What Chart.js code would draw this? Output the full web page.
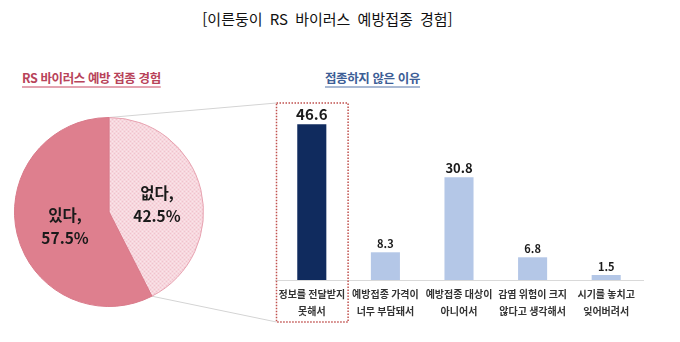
<!DOCTYPE html>
<html lang="ko">
<head>
<meta charset="utf-8">
<script src="https://cdn.jsdelivr.net/npm/chart.js@4.4.1/dist/chart.umd.min.js"></script>
<style>
  html, body { margin: 0; padding: 0; background: #fff; }
  body { width: 680px; height: 342px; position: relative; overflow: hidden; font-family: "Noto Sans CJK KR", sans-serif; }
  .title { position: absolute; top: 8px; left: 0; width: 655px; text-align: center; font-size: 15px; word-spacing: 3px; color: #111; }
  .sub { position: absolute; top: 68px; font-size: 12.5px; font-weight: bold; letter-spacing: -0.4px; text-decoration: underline; text-underline-offset: 3px; text-decoration-thickness: 2px; }
  .sub.left { left: 22px; color: #b8435a; text-decoration-color: #e3a3b0; }
  .sub.right { left: 325px; color: #3d5e96; text-decoration-color: #a9b9d3; }
  #barCanvas { position: absolute; left: 0; top: 60px; }
  #pieCanvas { position: absolute; left: 14px; top: 117px; }
</style>
</head>
<body>
<div class="title">[이른둥이 RS 바이러스 예방접종 경험]</div>
<div class="sub left">RS 바이러스 예방 접종 경험</div>
<div class="sub right">접종하지 않은 이유</div>
<canvas id="barCanvas" width="680" height="282"></canvas>
<canvas id="pieCanvas" width="190" height="190"></canvas>
<script>
const FONT = '"Noto Sans CJK KR", sans-serif';

// 접종 경험
const pieLabels = ['없다', '있다'];
const pieValues = [42.5, 57.5];

// 접종하지 않은 이유 (%)
const reasonLabels = [
  ['정보를 전달받지', '못해서'],
  ['예방접종 가격이', '너무 부담돼서'],
  ['예방접종 대상이', '아니어서'],
  ['감염 위험이 크지', '않다고 생각해서'],
  ['시기를 놓치고', '잊어버려서']
];
const reasonValues = [46.6, 8.3, 30.8, 6.8, 1.5];

// fine pink cross-hatch for the "없다" slice
function hatchPattern() {
  const c = document.createElement('canvas');
  c.width = c.height = 4;
  const g = c.getContext('2d');
  g.fillStyle = '#f7d7de';
  g.fillRect(0, 0, 4, 4);
  g.fillStyle = '#f0c3cd';
  g.fillRect(0, 0, 1, 1);
  g.fillRect(2, 2, 1, 1);
  g.fillStyle = '#fae6ea';
  g.fillRect(2, 0, 1, 1);
  g.fillRect(0, 2, 1, 1);
  return g.createPattern(c, 'repeat');
}

const pieLabelPlugin = {
  id: 'pieLabels',
  afterDatasetsDraw(chart) {
    const ctx = chart.ctx;
    const meta = chart.getDatasetMeta(0);
    ctx.save();
    ctx.font = 'bold 15.5px ' + FONT;
    ctx.fillStyle = '#1a1a1a';
    ctx.textAlign = 'center';
    ctx.textBaseline = 'middle';
    meta.data.forEach((arc, i) => {
      const p = arc.tooltipPosition();
      const y = p.y + 3;
      ctx.fillText(pieLabels[i] + ',', p.x + 2, y - 11);
      ctx.fillText(pieValues[i].toFixed(1) + '%', p.x + 2, y + 12);
    });
    ctx.restore();
  }
};

const pieCanvas = document.getElementById('pieCanvas');
const pieChart = new Chart(pieCanvas, {
  type: 'pie',
  data: {
    labels: pieLabels,
    datasets: [{
      data: pieValues,
      backgroundColor: [hatchPattern(), '#de7f8e'],
      borderColor: ['#e7a2b0', '#d97a8a'],
      borderWidth: 1
    }]
  },
  options: {
    responsive: false,
    animation: false,
    layout: { padding: 0 },
    plugins: { legend: { display: false }, tooltip: { enabled: false } }
  },
  plugins: [pieLabelPlugin]
});

const labelSizes = [15, 11, 13, 11, 11];

const barExtrasPlugin = {
  id: 'barExtras',
  afterDraw(chart) {
    const { ctx, chartArea, scales: { x } } = chart;
    const meta = chart.getDatasetMeta(0);
    ctx.save();

    // value labels above bars
    ctx.fillStyle = '#1a1a1a';
    ctx.textAlign = 'center';
    ctx.textBaseline = 'alphabetic';
    meta.data.forEach((bar, i) => {
      ctx.font = 'bold ' + labelSizes[i] + 'px ' + FONT;
      ctx.fillText(reasonValues[i].toFixed(1), bar.x, bar.y - 4);
    });

    // dotted box around the first reason
    const band = x.width / reasonValues.length;
    const c0 = x.getPixelForValue(0);
    const left = c0 - band / 2 + 1.5;
    const right = c0 + band / 2 - 0.5;
    const top = chartArea.top;
    const bottom = x.bottom;
    ctx.setLineDash([1.5, 1.5]);
    ctx.strokeStyle = '#c0504d';
    ctx.lineWidth = 1.5;
    ctx.strokeRect(left, top, right - left, bottom - top);

    // connector lines from the "없다" slice to the box
    const arc = pieChart.getDatasetMeta(0).data[0];
    const pr = pieCanvas.getBoundingClientRect();
    const br = chart.canvas.getBoundingClientRect();
    const dx = pr.left - br.left;
    const dy = pr.top - br.top;
    const r = arc.outerRadius;
    const p0 = [dx + arc.x + r * Math.cos(arc.startAngle), dy + arc.y + r * Math.sin(arc.startAngle)];
    const p1 = [dx + arc.x + r * Math.cos(arc.endAngle), dy + arc.y + r * Math.sin(arc.endAngle)];
    ctx.setLineDash([]);
    ctx.strokeStyle = '#d4d4d4';
    ctx.lineWidth = 1;
    ctx.beginPath();
    ctx.moveTo(p0[0], p0[1]);
    ctx.lineTo(left, top);
    ctx.moveTo(p1[0], p1[1]);
    ctx.lineTo(left, bottom);
    ctx.stroke();
    ctx.restore();
  }
};

new Chart(document.getElementById('barCanvas'), {
  type: 'bar',
  data: {
    labels: reasonLabels,
    datasets: [{
      data: reasonValues,
      backgroundColor: ['#102b5e', '#b4c7e7', '#b4c7e7', '#b4c7e7', '#b4c7e7'],
      categoryPercentage: 1,
      barPercentage: 0.395
    }]
  },
  options: {
    responsive: false,
    animation: false,
    layout: { padding: { left: 275, right: 37, top: 43, bottom: 20 } },
    plugins: { legend: { display: false }, tooltip: { enabled: false } },
    scales: {
      x: {
        grid: { display: true, drawOnChartArea: false, drawTicks: false },
        border: { display: true, color: '#d9d9d9', width: 1 },
        ticks: {
          color: '#333333',
          font: { family: FONT, size: 10, weight: 'bold', lineHeight: 1.7 },
          padding: 6,
          maxRotation: 0,
          autoSkip: false
        },
        afterFit(scale) { scale.height = 42; }
      },
      y: { display: false, min: 0, max: 53 }
    }
  },
  plugins: [barExtrasPlugin]
});
</script>
</body>
</html>
